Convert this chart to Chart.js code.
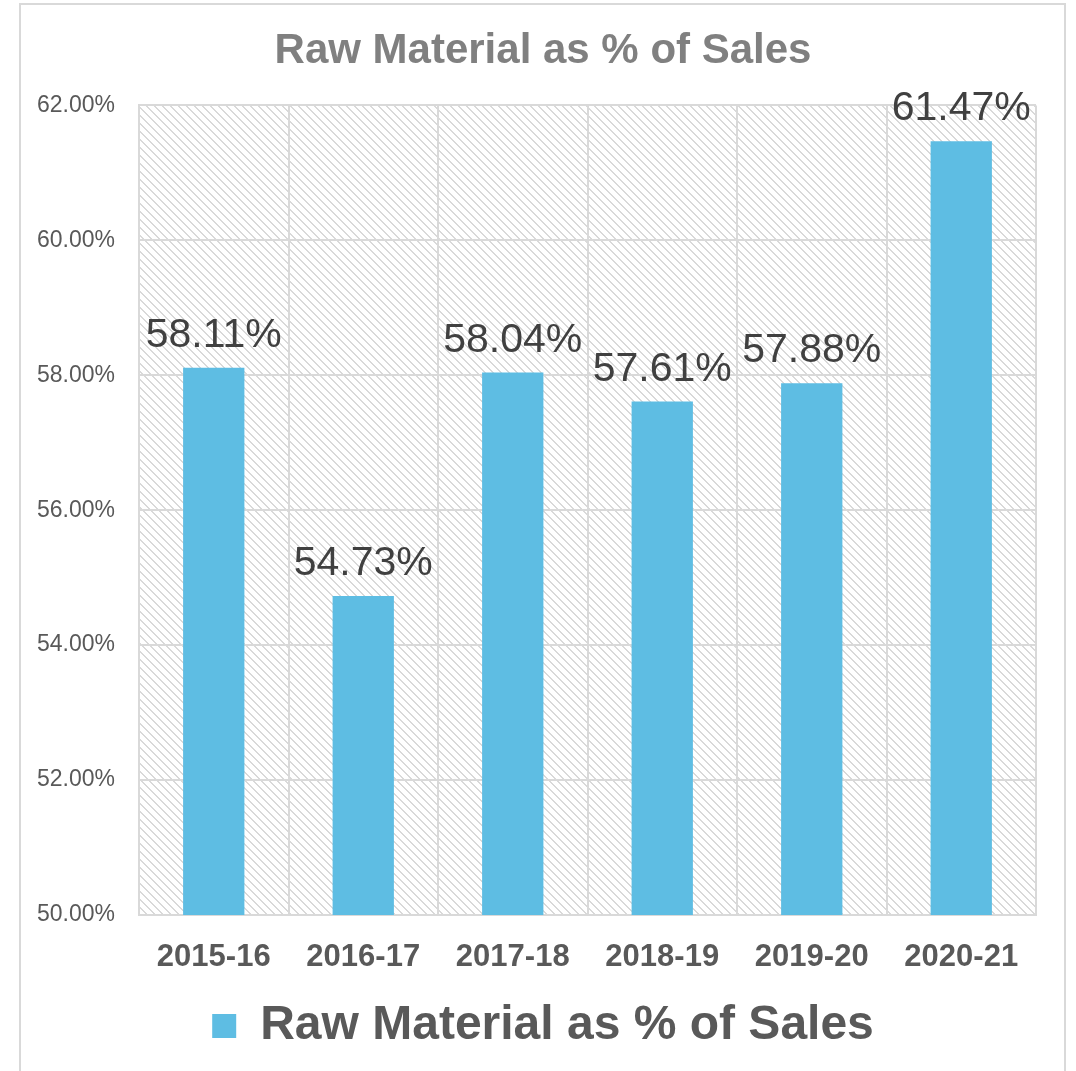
<!DOCTYPE html>
<html>
<head>
<meta charset="utf-8">
<script src="https://cdn.jsdelivr.net/npm/chart.js@4/dist/chart.umd.min.js"></script>
<style>
  html, body { margin: 0; padding: 0; background: #ffffff; }
  #wrap { position: relative; width: 1076px; height: 1071px; overflow: hidden; }
  #frame { position: absolute; left: 19px; top: 3px; width: 1047px; height: 1100px; border: 2px solid #d9d9d9; box-sizing: border-box; }
  #chart { position: absolute; left: 0; top: 0; }
</style>
</head>
<body>
<div id="wrap">
  <div id="frame"></div>
  <canvas id="chart" width="1076" height="1071"></canvas>
</div>
<script>
// Raw material cost as a share of sales, by financial year
const years = ['2015-16', '2016-17', '2017-18', '2018-19', '2019-20', '2020-21'];
const rawMaterialPct = [58.11, 54.73, 58.04, 57.61, 57.88, 61.47];
const yTicks = [50, 52, 54, 56, 58, 60, 62];
const seriesName = 'Raw Material as % of Sales';

const FONT = "'Liberation Sans', Arial, sans-serif";

// Diagonal hatch used behind the plot area
function makeHatch() {
  const c = document.createElement('canvas');
  c.width = 8; c.height = 8;
  const g = c.getContext('2d');
  g.fillStyle = '#d9d9d9';
  for (let i = 0; i < 8; i++) {
    g.fillRect(i, i, 1, 1);
    g.fillRect((i + 1) % 8, i, 1, 1);
  }
  return c;
}

const plotBackground = {
  id: 'plotBackground',
  beforeDraw(chart) {
    const { ctx, chartArea: a } = chart;
    ctx.save();
    ctx.fillStyle = ctx.createPattern(makeHatch(), 'repeat');
    ctx.fillRect(a.left, a.top, a.right - a.left, a.bottom - a.top);
    ctx.restore();
  }
};

const valueLabels = {
  id: 'valueLabels',
  afterDatasetsDraw(chart) {
    const { ctx } = chart;
    const meta = chart.getDatasetMeta(0);
    ctx.save();
    ctx.font = '41px ' + FONT;
    ctx.fillStyle = '#404040';
    ctx.textAlign = 'center';
    ctx.textBaseline = 'alphabetic';
    meta.data.forEach((bar, i) => {
      ctx.fillText(rawMaterialPct[i].toFixed(2) + '%', bar.x, bar.y - 21);
    });
    ctx.restore();
  }
};

new Chart(document.getElementById('chart'), {
  type: 'bar',
  data: {
    labels: years,
    datasets: [{
      label: seriesName,
      data: rawMaterialPct,
      backgroundColor: '#5ebde3',
      borderWidth: 0,
      categoryPercentage: 1,
      barPercentage: 0.41
    }]
  },
  options: {
    responsive: false,
    animation: false,
    layout: { padding: { left: 10, right: 0, top: 0, bottom: 11 } },
    plugins: {
      title: {
        display: true,
        text: seriesName,
        color: '#808080',
        font: { family: FONT, size: 42, weight: 'bold' },
        padding: { top: 26, bottom: 29 }
      },
      legend: {
        display: true,
        position: 'bottom',
        labels: {
          color: '#595959',
          font: { family: FONT, size: 48, weight: 'bold' },
          boxWidth: 24,
          boxHeight: 24,
          padding: 10
        }
      },
      tooltip: { enabled: false }
    },
    scales: {
      x: {
        grid: { color: '#d9d9d9', lineWidth: 2, drawTicks: false, offset: true },
        border: { color: '#d9d9d9', width: 2 },
        ticks: {
          color: '#595959',
          font: { family: FONT, size: 31, weight: 'bold' },
          padding: 24,
          maxRotation: 0
        },
        afterFit(scale) { scale.height = 77; }
      },
      y: {
        min: yTicks[0],
        max: yTicks[yTicks.length - 1],
        afterBuildTicks(scale) { scale.ticks = yTicks.map(v => ({ value: v })); },
        grid: { color: '#d9d9d9', lineWidth: 2, drawTicks: false },
        border: { color: '#d9d9d9', width: 2 },
        ticks: {
          color: '#595959',
          font: { family: FONT, size: 23 },
          padding: 24,
          callback: v => Number(v).toFixed(2) + '%'
        },
        afterFit(scale) { scale.width = 129; }
      },
      // empty right-hand gutter between the plot and the frame
      gutter: {
        type: 'linear',
        position: 'right',
        display: true,
        grid: { display: false },
        border: { display: false },
        ticks: { display: false },
        afterFit(scale) { scale.width = 40; }
      }
    }
  },
  plugins: [plotBackground, valueLabels]
});
</script>
</body>
</html>
